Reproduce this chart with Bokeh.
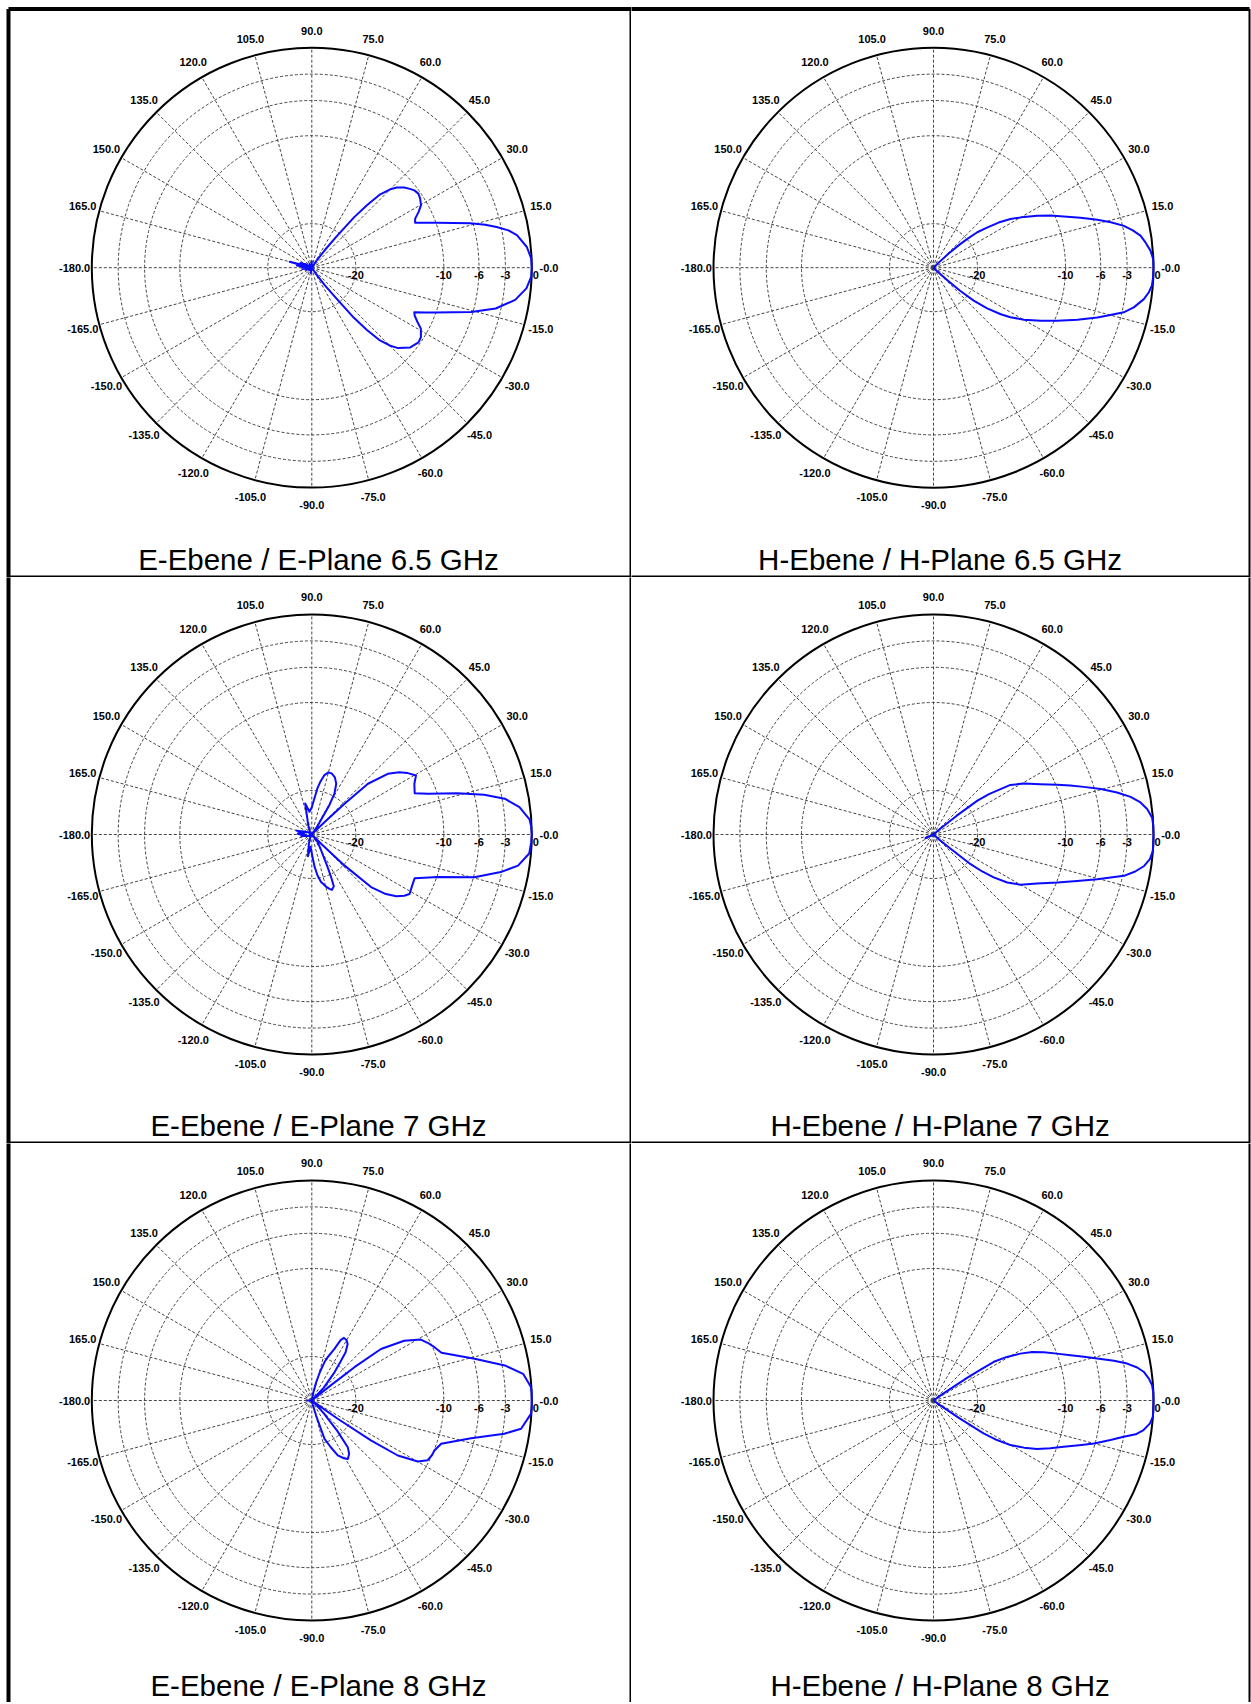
import numpy as np
from bokeh.plotting import figure
from bokeh.layouts import column, row
from bokeh.models import Range1d
from bokeh.core.properties import value
from bokeh.embed import file_html
from bokeh.resources import INLINE

# ---------------- data ----------------
DB_MIN = -25.0                      # centre of the polar plot
RING_DB = [-20, -10, -6, -3]        # dashed rings
RING_LABEL_DB = [-20, -10, -6, -3, 0]
RING_LABELS = ["-20", "-10", "-6", "-3", "0"]
SPOKE_DEG = list(range(0, 360, 15))
ANGLE_LABELS = ["-0.0", "15.0", "30.0", "45.0", "60.0", "75.0", "90.0", "105.0",
                "120.0", "135.0", "150.0", "165.0", "-180.0", "-165.0", "-150.0",
                "-135.0", "-120.0", "-105.0", "-90.0", "-75.0", "-60.0", "-45.0",
                "-30.0", "-15.0"]

TITLES = ["E-Ebene / E-Plane 6.5 GHz", "H-Ebene / H-Plane 6.5 GHz",
          "E-Ebene / E-Plane 7 GHz", "H-Ebene / H-Plane 7 GHz",
          "E-Ebene / E-Plane 8 GHz", "H-Ebene / H-Plane 8 GHz"]

# E-plane 6.5 GHz
E65_ANG = [-180, -176, -172, -168, -160, -150, -135, -120, -100, -90, -75, -60,
           -55.7, -53.5, -51.6, -50, -48.5, -47, -45, -43, -39, -35, -32.5, -29.2,
           -27.2, -25, -23.5, -21.5, -20, -15.5, -12.5, -9, -5.5, -2.4, 0, 2.4,
           5.5, 9, 10.75, 12.4, 13.9, 15.7, 19.8, 21.5, 23.5, 25.4, 27.6, 29.8, 32.5, 34.8, 37,
           38.8, 41, 43.3, 45, 47, 48.5, 50, 51.6, 53.5, 55.7, 60, 75, 90, 100,
           120, 135, 150, 158, 162, 165, 168, 172, 176, 180]
E65_DB = [-23.8, -24.6, -23.9, -24.8, -24.3, -25, -24.6, -25, -24.4, -25, -25, -25,
          -24.0, -22.5, -20.8, -17.6, -15.6, -13.8, -12.5, -11.6, -10.6, -10.2, -10.3, -10.8,
          -11.5, -12.1, -12.3, -11.1, -10.1, -6.2, -3.6, -1.6, -0.5, -0.05, 0.0, -0.05,
          -0.45, -1.4, -2.25, -3.5, -4.7, -6.3, -9.9, -11.05, -12.2, -12.0, -11.3, -10.7, -10.4, -10.25, -10.4,
          -10.7, -11.1, -11.7, -12.4, -13.6, -15.5, -17.5, -20.5, -22.5, -24.0, -25, -25, -24.3, -25,
          -24.5, -25, -24.2, -23.6, -24.5, -22.4, -24.2, -23.3, -24.4, -23.8]

# H-plane 6.5 GHz
H65_ANG = [-180, -120, -90, -60, -50, -45, -42.5, -41, -39.3, -37.2, -34.7, -32.8,
           -29.9, -26.35, -23.2, -19.9, -16.9, -15, -13.2, -11.2, -8.5, -6.5, -4.7,
           -2.5, 0, 2.26, 4.5, 6.8, 8.8, 10.7, 12.4, 14.4, 16.3, 18.8, 21.5, 24,
           26.6, 29.3, 32.3, 34.75, 36.9, 39, 40.4, 41.5, 43, 44.5, 50, 60, 90, 120, 180]
H65_DB = [-25, -25, -25, -25, -25, -24.5, -23.0, -21.0, -19.1, -17.35, -15.7, -14.6,
          -13.15, -11.4, -9.7, -7.6, -5.55, -4.2, -2.8, -1.8, -0.83, -0.37, -0.1,
          -0.02, 0.0, -0.02, -0.27, -0.74, -1.2, -2.0, -2.85, -4.2, -5.6, -7.35, -9.1, -10.45,
          -11.8, -13.2, -14.65, -16.0, -17.4, -18.6, -20.0, -21.0, -22.6, -24.3, -25, -25, -25, -25, -25]

# E-plane 7 GHz
E7_ANG = [-180, -175, -170, -165, -155, -140, -125, -115, -108, -100, -96, -92,
          -88, -85, -82, -79, -75, -72, -70, -67, -65.6, -64, -62, -58, -52, -48,
          -45, -43.5, -41.6, -38.8, -36.2, -33.5, -31.3, -27, -23, -21, -18.7,
          -14.7, -11.25, -8.6, -5, -2, 0, 2, 4, 7.5, 10.5, 13, 15.8, 19.3, 21.9, 26.3,
          29.5, 32.6, 35.5, 38.6, 42.1, 43.2, 44.2, 47, 52, 56, 59, 61, 64.3, 68,
          72, 75, 78, 81, 83, 86.6, 90, 96, 102, 106, 110, 120, 135, 150, 160,
          166, 172, 176, 180]
E7_DB = [-23.6, -24.2, -23.8, -24.4, -24.6, -25, -24.8, -24.5, -23.9, -22.5, -23.6, -23.2,
         -22.4, -21.3, -20.3, -19.5, -18.9, -18.5, -18.3, -18.6, -19.7, -21.0, -22.2, -23.2, -24.0, -24.8,
         -23.5, -19.9, -16.0, -14.2, -13.1, -12.4, -12.0, -12.2, -12.3, -11.3, -9.9,
         -5.9, -3.1, -1.3, -0.2, -0.05, 0.0, -0.05, -0.2, -1.2, -2.7, -4.9, -7.8, -11.0, -12.4, -12.0,
         -11.4, -12.05, -12.8, -13.95, -16.4, -19.9, -23.0, -24.6, -25, -23.8, -21.2, -19.7, -18.6, -18.0,
         -17.7, -17.7, -18.1, -19.0, -19.7, -21.1, -21.9, -22.4, -21.4, -23.2, -23.7, -24.5, -24.8, -24.5, -24.0,
         -23.2, -24.1, -23.4, -23.6]

# H-plane 7 GHz
H7_ANG = [-180, -160, -155, -150, -120, -90, -60, -46, -42, -40, -38.7, -37.2,
          -35.5, -33.1, -30, -25.3, -21.2, -17.9, -15.3, -13.65, -12.25, -10.4,
          -8.5, -6.5, -4.25, -2, 0, 2.25, 4.4, 6.8, 8.8, 10.8, 12.9, 15.2, 17.6,
          19.7, 21.9, 25.2, 29.4, 32.8, 34.1, 36.1, 37.6, 39, 41, 45, 60, 90, 120, 180]
H7_DB = [-25, -25, -24.0, -25, -25, -25, -25, -25, -24.2, -22.6, -19.6, -18.05,
         -16.6, -15.0, -13.6, -12.0, -9.9, -7.85, -5.7, -4.3, -2.85, -1.7,
         -0.8, -0.25, 0.0, 0.0, 0.0, 0.0, -0.08, -0.55, -1.2, -2.2, -3.6, -5.3, -7.1,
         -8.5, -9.85, -11.6, -13.2, -14.6, -15.8, -17.2, -18.7, -21.6, -24.0, -25, -25, -25, -25, -25]

# E-plane 8 GHz
E8_ANG = [-180, -170, -150, -120, -100, -85, -78, -74, -71.7, -68, -64.7, -61,
          -58.3, -55, -52.4, -50, -47, -43, -39, -36.5, -35.2, -34, -32.6, -29.9,
          -27.35, -24.5, -22.2, -18.5, -13.3, -9.8, -7.7, -3.5, -1.8, 0, 1.8, 3.5, 7.2, 10.3,
          14.4, 20.2, 23.5, 26.5, 29.2, 32.9, 36.7, 38, 38.5, 40, 43, 47, 51, 53.5,
          55, 57.6, 60, 62.8, 64.5, 66.3, 70, 71.7, 74, 76.7, 80, 88, 100, 120,
          150, 170, 180]
E8_DB = [-24.4, -25, -25, -25, -25, -25, -24.5, -23.2, -20.4, -19.3, -18.1, -17.5,
         -17.2, -17.6, -18.3, -20.5, -23.0, -24.6, -25, -24.5, -21.4, -16.9, -13.4, -11.1,
         -10.2, -10.0, -9.95, -9.5, -6.4, -2.8, -1.0, -0.05, 0.0, 0.0, 0.0, -0.05, -0.8, -2.7,
         -5.9, -9.3, -9.8, -10.3, -10.8, -12.5, -15.2, -18.85, -22.2, -24.6, -25, -23.0, -21.0, -19.5,
         -18.3, -17.4, -17.1, -17.0, -17.4, -18.6, -19.8, -20.4, -21.6, -22.9, -24.2, -25, -25, -25,
         -25, -25, -24.4]

# H-plane 8 GHz
H8_ANG = [-180, -120, -90, -60, -40, -36, -34.5, -33.25, -31.9, -30.1, -27.5, -25.1,
          -22.2, -19.6, -17.1, -15, -12.6, -10.8, -9.5, -8, -6.1, -4.25, -2, 0, 2,
          4, 5.8, 7.8, 9.2, 10.8, 12.4, 14.4, 16.2, 18.3, 20.8, 23.65, 26.1, 28.4,
          30.7, 32.65, 33.3, 34, 35.5, 40, 60, 90, 120, 180]
H8_DB = [-25, -25, -25, -25, -25, -24.1, -21.4, -18.2, -16.5, -14.9, -13.4, -12.0,
         -10.65, -9.3, -7.7, -6.1, -4.4, -3.0, -1.7, -0.9, -0.28, 0.0, 0.0, 0.0, 0.0,
         -0.1, -0.4, -0.9, -1.55, -2.6, -4.0, -5.8, -7.2, -8.6, -10.0, -11.3, -12.5, -13.8,
         -15.3, -16.85, -18.6, -20.4, -23.7, -25, -25, -25, -25, -25]

SERIES = [(E65_ANG, E65_DB), (H65_ANG, H65_DB),
          (E7_ANG, E7_DB), (H7_ANG, H7_DB),
          (E8_ANG, E8_DB), (H8_ANG, H8_DB)]

# ---------------- layout ----------------
S = 220.0                                   # pixels per unit radius
COLS = [(631, 311.3), (620, 302.0)]         # (width, centre x) in px
ROWS = [(577, 267.2), (566, 257.0), (559, 257.0)]  # (height, centre y) in px
TITLE_BASE = [569, 558, 552]                # alphabetic baseline in px
TITLE_CX = [318.0, 308.6]
TITLE_SIZE = 29.5
FONT = value("Liberation Sans")
GRID_COLOR = "#444444"


def to_r(db):
    return np.clip((np.asarray(db, dtype=float) - DB_MIN) / (-DB_MIN), 0.0, None)


def panel(ang, db, title, ri, ci):
    W, cx = COLS[ci]
    H, cy = ROWS[ri]
    p = figure(width=W, height=H,
               x_range=Range1d(-cx / S, (W - cx) / S),
               y_range=Range1d(-(H - cy) / S, cy / S),
               output_backend="svg", toolbar_location=None, tools="",
               min_border=0, x_axis_type=None, y_axis_type=None)
    p.outline_line_color = None
    p.background_fill_color = "white"
    p.border_fill_color = "white"

    # dashed rings
    rr = to_r(RING_DB)
    p.circle(x=[0] * len(rr), y=[0] * len(rr), radius=list(rr), fill_color=None,
             line_color=GRID_COLOR, line_dash="3 2", line_width=1)
    # spokes
    th = np.radians(SPOKE_DEG)
    p.segment(x0=[0] * len(th), y0=[0] * len(th), x1=list(np.cos(th)), y1=list(np.sin(th)),
              line_color=GRID_COLOR, line_dash="3 2", line_width=1)
    # outer circle
    p.circle(x=[0], y=[0], radius=[1.0], fill_color=None, line_color="black", line_width=2)

    # angle labels
    lr = 1.078
    p.text(x=list(lr * np.cos(th)), y=list(lr * np.sin(th)), text=ANGLE_LABELS,
           text_font=FONT, text_font_style="bold", text_font_size="11px",
           text_align="center", text_baseline="middle", text_color="black")
    # ring labels
    rl = list(to_r(RING_LABEL_DB))
    rl[-1] = rl[-1] + 4 / S
    p.text(x=rl, y=[-7 / S] * len(rl), text=RING_LABELS,
           text_font=FONT, text_font_style="bold", text_font_size="11px",
           text_align="center", text_baseline="middle", text_color="black")

    # pattern
    a = np.radians(ang)
    r = to_r(db)
    p.line(x=r * np.cos(a), y=r * np.sin(a), line_color="#0a0aff", line_width=2,
           line_join="round")

    # title (vertically centred on the cap height)
    ymid = TITLE_BASE[ri] - 0.35 * TITLE_SIZE
    p.text(x=[(TITLE_CX[ci] - cx) / S], y=[(cy - ymid) / S], text=[title],
           text_font=FONT, text_font_size=f"{TITLE_SIZE}px", text_align="center",
           text_baseline="middle", text_color="black")

    # table borders
    x0, x1 = -cx / S - 1, (W - cx) / S + 1
    y0, y1 = -(H - cy) / S - 1, cy / S + 1
    if ci == 0:
        xr = (W - 1 - cx) / S
        xl = (8 - cx) / S
        x0 = xl
    else:
        xr = (W - 2 - cx) / S
        x1 = xr
    if ri == 0:
        yt = (cy - 8.5) / S
        y1 = yt
        p.segment(x0=[x0], y0=[yt], x1=[x1], y1=[yt], line_color="black", line_width=4)
    if ci == 0:
        p.segment(x0=[xl], y0=[y0], x1=[xl], y1=[y1], line_color="black", line_width=4)
    p.segment(x0=[xr], y0=[y0], x1=[xr], y1=[y1], line_color="black", line_width=2)
    if ri < 2:
        yb = (cy - (H - 1)) / S
        p.segment(x0=[x0], y0=[yb], x1=[x1], y1=[yb], line_color="black", line_width=2)
    return p


panels = []
for i, (ang, db) in enumerate(SERIES):
    panels.append(panel(ang, db, TITLES[i], i // 2, i % 2))

layout = column(row(panels[0], panels[1]), row(panels[2], panels[3]), row(panels[4], panels[5]))

open("out.html", "w").write(file_html(layout, INLINE))
